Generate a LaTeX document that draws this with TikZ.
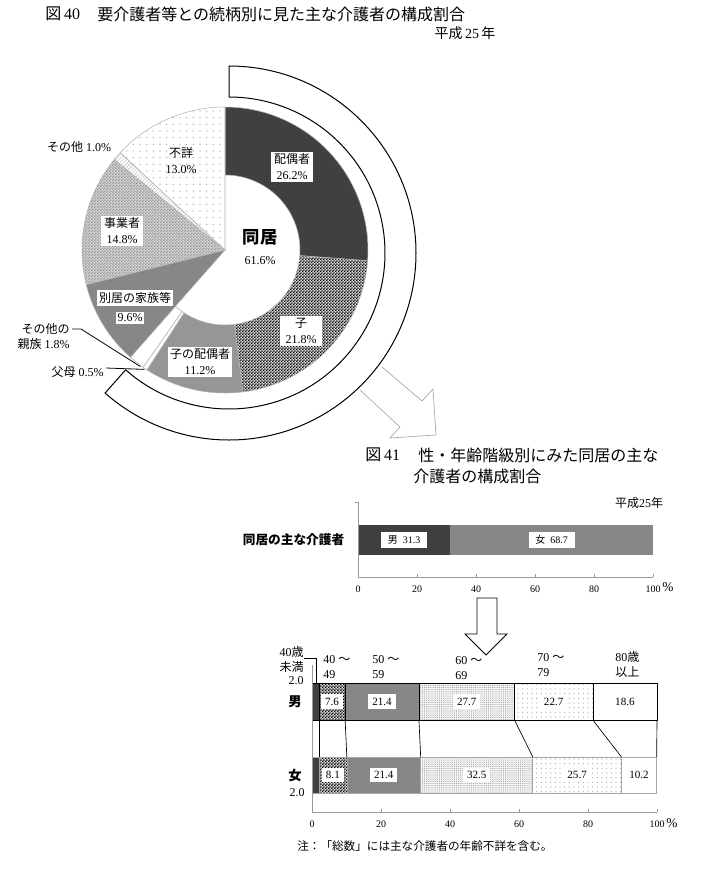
\documentclass[tikz,border=0pt]{standalone}
\usepackage{fontspec}
\setmainfont{Liberation Serif}
\newfontfamily\jp{Noto Sans CJK JP}
\usetikzlibrary{patterns,patterns.meta}

\definecolor{dk}{gray}{0.25}
\definecolor{md}{gray}{0.53}
\definecolor{lt}{gray}{0.59}

\pgfdeclarepatternformonly{finecheck}{\pgfpointorigin}{\pgfpoint{2.4pt}{2.4pt}}{\pgfpoint{2.4pt}{2.4pt}}{%
  \pgfpathrectangle{\pgfpointorigin}{\pgfpoint{1.2pt}{1.2pt}}%
  \pgfpathrectangle{\pgfpoint{1.2pt}{1.2pt}}{\pgfpoint{1.2pt}{1.2pt}}%
  \pgfusepath{fill}}

\begin{document}
\begin{tikzpicture}[x=0.75pt,y=-0.75pt,line width=0.5pt,
    lbl/.style={font=\fontsize{9}{12}\selectfont,align=center,inner sep=1.5pt},
    boxed/.style={lbl,fill=white,minimum width=31pt},
    title/.style={font=\fontsize{12}{14}\selectfont,inner sep=0pt},
    small/.style={font=\fontsize{7.5}{9}\selectfont,inner sep=1.5pt},
    hd/.style={font=\fontsize{9}{11}\selectfont,inner sep=0pt},
    val/.style={small,fill=white,inner xsep=5pt,inner ysep=2.5pt},
    val2/.style={font=\fontsize{8.3}{10}\selectfont,fill=white,inner xsep=3pt,inner ysep=2.5pt},
    bold/.style={font={\fontsize{#1}{14}\jp\bfseries}},
    slice/.style={draw=gray!60,line width=0.4pt},
    lead/.style={draw=black,line width=0.6pt},
    axis/.style={draw=gray!80,line width=0.6pt}]
  \tikzstyle{spouse}=[fill=dk]
  \tikzstyle{child}=[preaction={fill=gray!30},pattern=finecheck,pattern color=black]
  \tikzstyle{cspouse}=[fill=lt]
  \tikzstyle{kin}=[fill=white]
  \tikzstyle{apart}=[fill=md]
  \tikzstyle{firm}=[preaction={fill=gray!30},pattern=finecheck,pattern color=gray!85]
  \tikzstyle{other}=[preaction={fill=white},pattern={Lines[angle=45,distance=2pt,line width=0.3pt]},pattern color=gray!60]
  \tikzstyle{unknown}=[preaction={fill=white},pattern={Dots[distance=5pt,radius=0.45pt]},pattern color=gray!80]
  \tikzstyle{ag4}=[preaction={fill=gray!8},pattern={Dots[distance=1.6pt,radius=0.42pt]},pattern color=gray!80]
  \tikzstyle{ag5}=[preaction={fill=white},pattern={Dots[distance=3.5pt,radius=0.45pt]},pattern color=gray!70]

  \useasboundingbox (0,0) rectangle (714,871);

  % fig 40
  \node[title,anchor=west] (f40) at (45,14) {{\jp 図}\,40};
  \node[title,anchor=west] (t40) at (97,14) {\jp 要介護者等との続柄別に見た主な介護者の構成割合};
  \node[title,font=\fontsize{10.5}{12}\selectfont] (y40) at (465,33) {{\jp 平成}\,25\,{\jp 年}};

  \begin{scope}[shift={(225,250)},x=0.75pt,y=0.75pt]
    \foreach \a/\b/\s in {90/-4.3/spouse,-4.3/-82.8/child,-82.8/-123.1/cspouse,
                          -123.1/-124.9/kin,-124.9/-131.4/kin}
      \path[slice,\s] (\a:143) arc[start angle=\a,end angle=\b,radius=143]
        -- (\b:75) arc[start angle=\b,end angle=\a,radius=75] -- cycle;
    \foreach \a/\b/\s in {-131.4/-166/apart,-166/-219.3/firm,-219.3/-222.9/other,-222.9/-270/unknown}
      \path[slice,\s] (0,0) -- (\a:143) arc[start angle=\a,end angle=\b,radius=143] -- cycle;
    \coordinate (rlE) at (-126:144);
    \coordinate (paE) at (-124:144);
  \end{scope}

  % ring for doukyo
  \begin{scope}[shift={(229,253)},x=0.75pt,y=0.75pt]
    \draw[line width=0.75pt,fill=white] (90:187) arc[start angle=90,end angle=-131.5,radius=187]
      -- (-131.5:156) arc[start angle=-131.5,end angle=90,radius=156] -- cycle;
  \end{scope}

  \node[boxed] (spL) at (292,167) {{\jp 配偶者}\\26.2\%};
  \node[bold=13] (dk1) at (260,237) {同居};
  \node[lbl] (dk2) at (260,261) {61.6\%};
  \node[boxed] (chL) at (301,331) {{\jp 子}\\21.8\%};
  \node[boxed] (csL) at (200,362) {{\jp 子の配偶者}\\11.2\%};
  \node[boxed] (apL) at (135,298) {\jp 別居の家族等};
  \node[boxed,minimum width=0pt] (apV) at (130,318) {9.6\%};
  \node[boxed] (fmL) at (122,231) {{\jp 事業者}\\14.8\%};
  \node[lbl] (unL) at (181,161) {{\jp 不詳}\\13.0\%};
  \node[lbl] (otL) at (79,147) {{\jp その他}~1.0\%};
  \node[lbl,anchor=east] (rl1) at (72,329) {\jp その他の};
  \node[lbl,anchor=east] (rl2) at (72,344) {{\jp 親族}~1.8\%};
  \node[lbl,anchor=east] (paL) at (106,372) {{\jp 父母}~0.5\%};
  \draw[lead] (rl1.east) -- ++(9,0) -- (rlE);
  \draw[lead] ([yshift=3pt]paL.east) -- (paE);

  \draw[draw=gray!70] (382,367) -- (422,401) -- (433,389) -- (436,435) -- (390,438) -- (400,427) -- (360,390);

  % fig 41
  \node[title,anchor=west] (f41) at (365,455) {{\jp 図}\,41};
  \node[title,anchor=west] (t41a) at (418,455) {\jp 性・年齢階級別にみた同居の主な};
  \node[title,anchor=west] (t41b) at (413,476) {\jp 介護者の構成割合};
  \node[lbl] (y41) at (639,503) {{\jp 平成}25{\jp 年}};
  \node[bold=9.5,anchor=east] (who) at (349,540) {同居の主な介護者};

  \begin{scope}[shift={(358,0)},x=2.2125pt]
    \fill[dk] (0,525) rectangle (31.3,555);
    \fill[md] (31.3,525) rectangle (100,555);
    \draw[axis] (-1,502) -- (0,502) -- (0,577) -- (100,577);
    \foreach \t in {0,20,...,100} {
      \draw[axis] (\t,577) -- (\t,574);
      \node[small] (p\t) at (\t,589) {\t};
    }
    \node[val] (men) at (15.65,540) {{\jp 男}\enspace 31.3};
    \node[val] (women) at (65.65,540) {{\jp 女}\enspace 68.7};
  \end{scope}
  \node[lbl,font=\fontsize{10}{12}\selectfont] (pc1) at (668,587) {\%};

  \draw[line width=0.6pt] (477,598) -- (477,634) -- (465,634) -- (486,655) -- (507,634) -- (497,634) -- (497,598) -- cycle;

  \node[hd,anchor=east] (u40a) at (304,652) {40{\jp 歳}};
  \node[hd,anchor=east] (u40b) at (304,667) {\jp 未満};
  \node[hd,anchor=east] (u40c) at (304,681) {2.0};
  \coordinate (u40p) at (316,690);
  \draw[lead] ([yshift=-4.5pt]u40a.east) -| (u40p);
  \foreach \x/\y/\a/\b [count=\i] in {323/660/40/49,372/660/50/59,455/661/60/69,537/658/70/79} {
    \node[hd,anchor=west] (ha\i) at (\x,\y) {\a\ {\jp ～}};
    \node[hd,anchor=west] (hb\i) at (\x,\y+15) {\b};
  }
  \node[hd,anchor=west] (h80a) at (615,657) {80{\jp 歳}};
  \node[hd,anchor=west] (h80b) at (615,672) {\jp 以上};
  \node[bold=10] (mlab) at (295,702) {男};
  \node[bold=10] (wlab) at (295,775) {女};
  \node[hd] (w20) at (297,793) {2.0};

  \begin{scope}[shift={(312,0)},x=2.5875pt]
    \foreach \a/\b/\s in {0/2.0/spouse,2.0/9.6/child,9.6/31.0/apart,31.0/58.7/ag4,58.7/81.4/ag5,81.4/100/kin}
      \path[\s,draw=black] (\a,683) rectangle (\b,720);
    \foreach \a/\b/\s in {0/2.0/spouse,2.0/10.1/child,10.1/31.5/apart,31.5/64.0/ag4,64.0/89.7/ag5,89.7/99.9/kin}
      \path[\s,draw=gray!70] (\a,757) rectangle (\b,793);
    \foreach \m/\f in {2.0/2.0,9.6/10.1,31.0/31.5,58.7/64.0,81.4/89.7,100/99.9}
      \draw (\m,720) -- (\f,757);
    \draw[axis] (0,665) -- (0,812) -- (100,812);
    \foreach \t in {0,20,...,100} {
      \draw[axis] (\t,812) -- (\t,809);
      \node[small] (q\t) at (\t,824) {\t};
    }
    \foreach \x/\v [count=\i] in {5.8/7.6,20.3/21.4,44.85/27.7,70.05/22.7,90.7/18.6}
      \node[val2] (m\i) at (\x,701.5) {\v};
    \foreach \x/\v [count=\i] in {6.05/8.1,20.8/21.4,47.75/32.5,76.85/25.7,94.8/10.2}
      \node[val2] (w\i) at (\x,775) {\v};
  \end{scope}
  \node[lbl,font=\fontsize{10}{12}\selectfont] (pc2) at (672,823) {\%};

  \node[lbl,anchor=west,font=\fontsize{8.7}{10}\selectfont] (note) at (295,846) {\jp 注：「総数」には主な介護者の年齢不詳を含む。};
\end{tikzpicture}
\end{document}
